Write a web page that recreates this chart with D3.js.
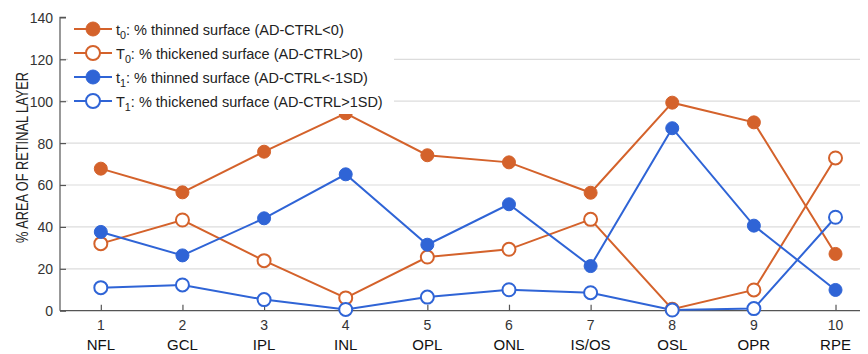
<!DOCTYPE html>
<html><head><meta charset="utf-8">
<script src="https://cdn.jsdelivr.net/npm/d3@7"></script>
<style>body{margin:0;background:#fff;} svg{display:block;font-family:"Liberation Sans", Arial, sans-serif;}</style>
</head><body><svg id="c" width="868" height="354"></svg>
<script>
const categories = [1,2,3,4,5,6,7,8,9,10];
const layers = ["NFL","GCL","IPL","INL","OPL","ONL","IS/OS","OSL","OPR","RPE"];
const t0 = [67.8,56.5,75.9,94.2,74.2,70.8,56.3,99.3,89.9,27.1];
const T0 = [32.0,43.3,23.9,6.1,25.6,29.3,43.6,0.7,9.9,72.9];
const t1 = [37.6,26.4,44.1,65.1,31.5,50.8,21.3,87.1,40.6,9.9];
const T1 = [11.0,12.3,5.3,0.6,6.5,10.0,8.6,0.3,1.0,44.6];
const yTicks = [0,20,40,60,80,100,120,140];
const seriesNames = [
  ["t","0",": % thinned surface (AD-CTRL<0)"],
  ["T","0",": % thickened surface (AD-CTRL>0)"],
  ["t","1",": % thinned surface (AD-CTRL<-1SD)"],
  ["T","1",": % thickened surface (AD-CTRL>1SD)"]
];
const ORANGE = "#d4622b", BLUE = "#2f64d6";
const series = [
  {values:t0, color:ORANGE, filled:true},
  {values:T0, color:ORANGE, filled:false},
  {values:t1, color:BLUE, filled:true},
  {values:T1, color:BLUE, filled:false}
];
const FONT = '"Liberation Sans", Arial, sans-serif';

const svg = d3.select("#c");
const x = d3.scaleLinear().domain([0.5,10.3]).range([60,860]);
const y = d3.scaleLinear().domain([0,140]).range([310.7,17.4]);

// grid
svg.append("g").selectAll("line").data(yTicks.filter(d=>d>0 && d<140)).join("line")
  .attr("x1",60).attr("x2",860).attr("y1",d=>y(d)).attr("y2",d=>y(d))
  .attr("stroke","#dcdcdc").attr("stroke-width",1.2);

// y axis
const ya = svg.append("g").attr("transform","translate(60,0)")
  .call(d3.axisRight(y).tickValues(yTicks).tickSize(6));
ya.select(".domain").attr("stroke","#555").attr("stroke-width",1.2).attr("d",`M6,${y(140)}H0V${y(0)}`);
ya.selectAll(".tick line").attr("stroke","#555").attr("stroke-width",1.2);
ya.selectAll(".tick text").attr("text-anchor","end").attr("x",-7).attr("dy","0.35em")
  .attr("font-size",14).attr("fill","#333").attr("font-family",FONT);

// x axis
const xa = svg.append("g").attr("transform",`translate(0,${y(0)})`)
  .call(d3.axisTop(x).tickValues(categories).tickSize(6).tickFormat(""));
xa.select(".domain").attr("stroke","#555").attr("stroke-width",1.2).attr("d",`M60,0H860`);
xa.selectAll(".tick line").attr("stroke","#555").attr("stroke-width",1.2);
const xl = svg.append("g").attr("text-anchor","middle");
xl.selectAll("text.n").data(categories).join("text").attr("class","n")
  .attr("x",d=>x(d)).attr("y",330).attr("font-size",14).attr("fill","#333").text(d=>d);
xl.selectAll("text.l").data(layers).join("text").attr("class","l")
  .attr("x",(d,i)=>x(categories[i])).attr("y",350).attr("font-size",15).attr("fill","#111").text(d=>d);

// y title
svg.append("text").attr("transform","translate(28,157.5) rotate(-90)").attr("text-anchor","middle")
  .attr("font-size",17).attr("fill","#222")
  .attr("textLength",171).attr("lengthAdjust","spacingAndGlyphs")
  .text("% AREA OF RETINAL LAYER");

// lines
const line = d3.line().x((d,i)=>x(categories[i])).y(d=>y(d));
series.forEach(s=>{
  svg.append("path").attr("d",line(s.values)).attr("fill","none").attr("stroke",s.color).attr("stroke-width",2);
});
series.forEach(s=>{
  svg.append("g").selectAll("circle").data(s.values).join("circle")
    .attr("cx",(d,i)=>x(categories[i])).attr("cy",d=>y(d)).attr("r",6.5)
    .attr("fill",s.filled?s.color:"#fff").attr("stroke",s.color).attr("stroke-width",s.filled?1:2);
});

// legend
const lg = svg.append("g");
lg.append("rect").attr("x",68).attr("y",14).attr("width",326).attr("height",100).attr("fill","#fff");
const rowY = [29,53,77,101];
const rowW = [228,247,252,267];
series.forEach((s,i)=>{
  const g = lg.append("g").attr("transform",`translate(0,${rowY[i]})`);
  g.append("line").attr("x1",74).attr("x2",112).attr("y1",0).attr("y2",0).attr("stroke",s.color).attr("stroke-width",2);
  g.append("circle").attr("cx",93).attr("cy",0).attr("r",7).attr("fill",s.filled?s.color:"#fff").attr("stroke",s.color).attr("stroke-width",s.filled?1:2);
  const tg = g.append("g");
  const t = tg.append("text").attr("x",0).attr("y",5.5).attr("font-size",15.5).attr("fill","#222");
  t.append("tspan").text(seriesNames[i][0]);
  t.append("tspan").attr("dy",5).attr("font-size",11.5).text(seriesNames[i][1]);
  t.append("tspan").attr("dy",-5).text(seriesNames[i][2]);
  const w = t.node().getBBox().width;
  tg.attr("transform",`translate(116,0) scale(${rowW[i]/w},1)`);
});
</script></body></html>
